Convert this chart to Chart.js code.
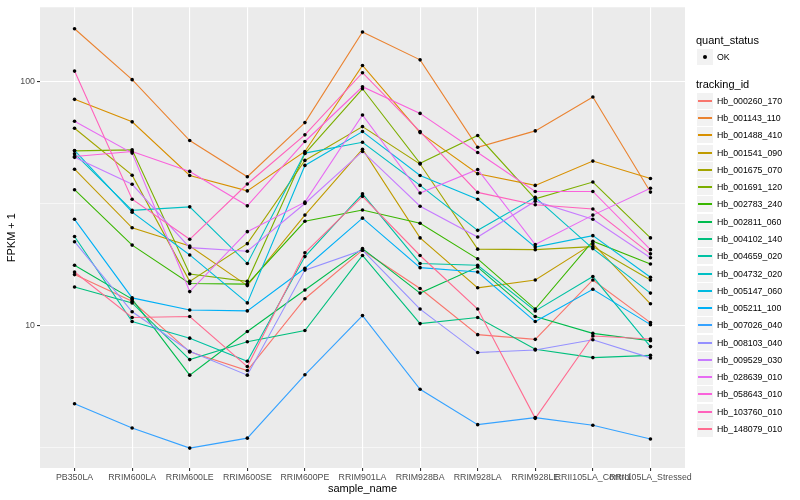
<!DOCTYPE html>
<html>
<head>
<meta charset="utf-8">
<script src="https://cdn.jsdelivr.net/npm/chart.js@4.4.1/dist/chart.umd.min.js"></script>
<style>
  body { margin: 0; background: #fff; font-family: "Liberation Sans", Arial, sans-serif; }
  #wrap { position: relative; width: 800px; height: 500px; }
  #chart { position: absolute; left: 0; top: 0; }
  .lg { position: absolute; white-space: nowrap; color: #000; }
  .lg-title { font-size: 11px; line-height: 13px; }
  .lg-text { font-size: 8.8px; line-height: 10px; }
  .lg-key { position: absolute; width: 16px; height: 16px; background: #F2F2F2; }
  .lg-line { position: absolute; left: 1px; top: 7px; width: 14px; height: 2px; }
  .lg-dot { position: absolute; left: 6px; top: 6px; width: 4px; height: 4px; border-radius: 50%; background: #000; }
</style>
</head>
<body>
<div id="wrap">
  <canvas id="chart" width="800" height="500"></canvas>
  <div id="legend"></div>
</div>
<script>
const FONT = '"Liberation Sans", Arial, sans-serif';

const categories = ["PB350LA", "RRIM600LA", "RRIM600LE", "RRIM600SE", "RRIM600PE", "RRIM901LA",
  "RRIM928BA", "RRIM928LA", "RRIM928LE", "RRII105LA_Control", "RRII105LA_Stressed"];

const yTicks = [3.1623, 10, 31.623, 100];
const yTickLabels = ["", "10", "", "100"];

// FPKM + 1, one array per tracking_id, in category order
const hb_000260_170 = [16.2, 12.6, 7.81, 6.55, 12.9, 20.4, 14.2, 9.19, 8.79, 15.4, 10.3];
const hb_001143_110 = [165, 102, 57.4, 40.8, 68, 160, 123, 53.9, 62.9, 86.6, 35.3];
const hb_001488_410 = [84.7, 68.5, 41.3, 35.7, 51.8, 116.6, 61.9, 42.0, 37.6, 47.3, 40.1];
const hb_001541_090 = [43.8, 25.2, 21.2, 14.6, 28.4, 52.9, 22.9, 14.3, 15.4, 21.7, 12.3];
const hb_001675_070 = [64.5, 41.4, 15.2, 21.7, 47.6, 65.5, 46.0, 20.6, 20.5, 21.1, 15.4];
const hb_001691_120 = [52.1, 52.6, 16.3, 15.2, 50.8, 93.6, 46.3, 60.2, 33.1, 38.8, 22.9];
const hb_002783_240 = [36.1, 21.4, 14.9, 14.8, 26.8, 29.8, 26.3, 18.8, 11.7, 22.2, 17.9];
const hb_002811_060 = [17.7, 12.85, 6.27, 9.47, 14.0, 20.7, 13.6, 17.4, 10.9, 9.30, 8.68];
const hb_004102_140 = [14.4, 12.4, 7.26, 8.60, 9.56, 19.4, 10.2, 10.8, 8.00, 7.40, 7.56];
const hb_004659_020 = [23.2, 10.4, 8.89, 7.15, 19.2, 34.7, 18.0, 17.7, 11.5, 15.9, 8.21];
const hb_004732_020 = [50.7, 29.7, 30.7, 18.0, 51.0, 56.5, 37.6, 24.6, 33.6, 20.7, 13.6];
const hb_005147_060 = [52.3, 29.2, 19.5, 12.4, 45.4, 62.5, 41.3, 33.0, 21.0, 23.4, 15.8];
const hb_005211_100 = [27.3, 13.0, 11.6, 11.5, 17.2, 27.6, 17.3, 16.6, 10.4, 14.1, 10.1];
const hb_007026_040 = [4.79, 3.81, 3.15, 3.46, 6.29, 11.0, 5.49, 3.93, 4.20, 3.91, 3.43];
const hb_008103_040 = [22.1, 11.4, 7.86, 6.27, 16.9, 20.4, 11.7, 7.76, 7.95, 8.76, 7.38];
const hb_009529_030 = [49.0, 38.0, 20.9, 20.2, 31.7, 51.8, 30.9, 23.1, 32.4, 27.3, 19.0];
const hb_028639_010 = [68.9, 51.0, 13.8, 24.3, 32.1, 73.1, 35.0, 43.7, 21.5, 28.4, 36.6];
const hb_058643_010 = [49.4, 51.8, 42.9, 31.0, 56.9, 95.4, 74.2, 51.3, 35.5, 35.5, 20.5];
const hb_103760_010 = [110.6, 33.0, 22.6, 38.1, 60.6, 108.9, 62.5, 35.2, 31.3, 30.1, 19.7];
const hb_148079_010 = [16.6, 10.8, 10.9, 6.80, 19.9, 33.9, 19.4, 11.7, 4.17, 9.07, 8.82];

const trackingIds = ["Hb_000260_170", "Hb_001143_110", "Hb_001488_410", "Hb_001541_090", "Hb_001675_070",
  "Hb_001691_120", "Hb_002783_240", "Hb_002811_060", "Hb_004102_140", "Hb_004659_020",
  "Hb_004732_020", "Hb_005147_060", "Hb_005211_100", "Hb_007026_040", "Hb_008103_040",
  "Hb_009529_030", "Hb_028639_010", "Hb_058643_010", "Hb_103760_010", "Hb_148079_010"];

const seriesValues = [hb_000260_170, hb_001143_110, hb_001488_410, hb_001541_090, hb_001675_070,
  hb_001691_120, hb_002783_240, hb_002811_060, hb_004102_140, hb_004659_020,
  hb_004732_020, hb_005147_060, hb_005211_100, hb_007026_040, hb_008103_040,
  hb_009529_030, hb_028639_010, hb_058643_010, hb_103760_010, hb_148079_010];

const seriesColors = ["#F8766D", "#EA8331", "#D89000", "#C09B00", "#A3A500", "#7CAE00", "#39B600",
  "#00BB4E", "#00BF7D", "#00C1A3", "#00BFC4", "#00BAE0", "#00B0F6", "#35A2FF", "#9590FF",
  "#C77CFF", "#E76BF3", "#FA62DB", "#FF62BC", "#FF6C91"];

function toPoints(values) {
  return values.map((v, i) => ({ x: i, y: v }));
}

const n = trackingIds.length;
const lineSets = trackingIds.map((id, i) => ({
  label: id,
  data: toPoints(seriesValues[i]),
  borderColor: seriesColors[i],
  borderWidth: 1.1,
  pointRadius: 0,
  tension: 0,
  order: 1 + (n - 1 - i),
}));
const pointSets = trackingIds.map((id, i) => ({
  label: id + " OK",
  data: toPoints(seriesValues[i]),
  showLine: false,
  pointRadius: 1.8,
  pointBorderWidth: 0,
  pointBackgroundColor: "#000000",
  borderColor: "#000000",
  order: 0,
}));

const panelBg = {
  id: "panelBg",
  beforeDraw(chart) {
    const { ctx, chartArea: a } = chart;
    ctx.save();
    ctx.fillStyle = "#EBEBEB";
    ctx.fillRect(a.left, a.top, a.right - a.left, a.bottom - a.top);
    ctx.restore();
  },
};

new Chart(document.getElementById("chart"), {
  type: "line",
  data: { datasets: [...lineSets, ...pointSets] },
  plugins: [panelBg],
  options: {
    responsive: false,
    animation: false,
    devicePixelRatio: 1,
    events: [],
    layout: { padding: { left: 0, right: 115, top: 5, bottom: 0 } },
    plugins: { legend: { display: false }, tooltip: { enabled: false } },
    scales: {
      x: {
        type: "linear",
        min: -0.6,
        max: 10.6,
        afterBuildTicks: (s) => { s.ticks = categories.map((_, i) => ({ value: i })); },
        afterFit: (s) => { s.height = 32; },
        ticks: {
          callback: (v, i) => categories[i],
          autoSkip: false, maxRotation: 0, minRotation: 0,
          color: "#4D4D4D", font: { size: 8.8, family: FONT }, padding: 1,
        },
        grid: { color: "#FFFFFF", lineWidth: 1.1, tickColor: "#333333", tickLength: 3 },
        border: { display: false },
        title: { display: true, text: "sample_name", color: "#000", font: { size: 11, family: FONT }, padding: { top: 0, bottom: 4 } },
      },
      y: {
        type: "logarithmic",
        min: 2.61,
        max: 202,
        afterBuildTicks: (s) => { s.ticks = yTicks.map((v) => ({ value: v })); },
        afterFit: (s) => { s.width = 40; },
        ticks: {
          callback: (v, i) => yTickLabels[i],
          autoSkip: false,
          color: "#4D4D4D", font: { size: 8.8, family: FONT }, padding: 2,
        },
        grid: {
          color: "#FFFFFF",
          lineWidth: (c) => (yTickLabels[c.index] ? 1.1 : 0.55),
          tickColor: (c) => (yTickLabels[c.index] ? "#333333" : "rgba(0,0,0,0)"),
          tickLength: 3,
        },
        border: { display: false },
        title: { display: true, text: "FPKM + 1", color: "#000", font: { size: 11, family: FONT }, padding: { top: 5, bottom: 0 } },
      },
    },
  },
});

function renderLegend() {
  const box = document.getElementById("legend");
  const parts = [];
  parts.push('<div class="lg lg-title" style="left:696px;top:34px">quant_status</div>');
  parts.push('<div class="lg-key" style="left:697px;top:49px"><div class="lg-dot"></div></div>');
  parts.push('<div class="lg lg-text" style="left:717px;top:52px">OK</div>');
  parts.push('<div class="lg lg-title" style="left:696px;top:78px">tracking_id</div>');
  trackingIds.forEach((id, i) => {
    const cy = Math.round(100.7 + i * 17.28);
    parts.push(`<div class="lg-key" style="left:697px;top:${cy - 8}px"><div class="lg-line" style="background:${seriesColors[i]}"></div></div>`);
    parts.push(`<div class="lg lg-text" style="left:717px;top:${cy - 5}px">${id}</div>`);
  });
  box.innerHTML = parts.join("");
}

renderLegend();
</script>
</body>
</html>
